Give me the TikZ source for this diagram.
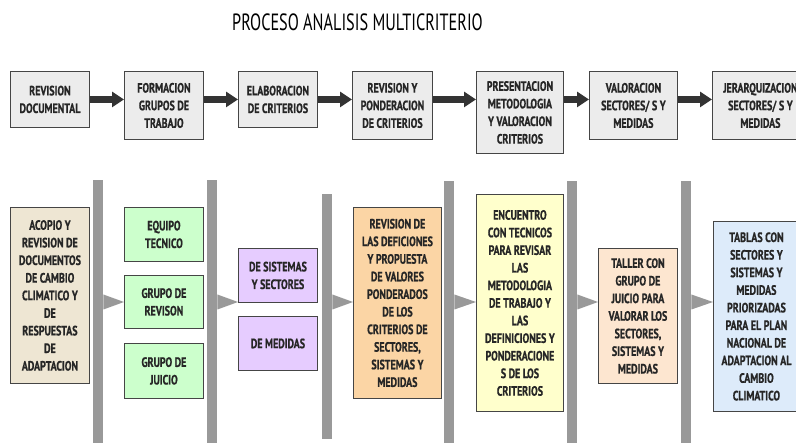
\documentclass[tikz,border=0pt]{standalone}
\usepackage{fontspec}
\setmainfont{PT Sans}[FakeStretch=0.69]
\newfontfamily\boxfont{PT Sans Bold}[FakeStretch=0.74, FakeBold=0.8]
\usetikzlibrary{arrows.meta,calc}
\definecolor{topfill}{HTML}{ECECEC}
\definecolor{edge}{HTML}{454545}
\definecolor{txt}{HTML}{262626}
\definecolor{arr}{HTML}{333333}
\definecolor{bargray}{HTML}{999999}
\definecolor{beige}{HTML}{EEE6D3}
\definecolor{green}{HTML}{CCFFCC}
\definecolor{purple}{HTML}{E6CCFF}
\definecolor{orange}{HTML}{FBD5A5}
\definecolor{yellow}{HTML}{FFFFCC}
\definecolor{peach}{HTML}{FDE6D0}
\definecolor{lblue}{HTML}{DDEBFA}
\tikzset{
  box/.style={draw=edge, line width=0.9pt, anchor=north west, align=center,
    inner sep=0pt, text=txt, font=\boxfont\fontsize{13.5}{17.6}\selectfont},
  topbox/.style={box, fill=topfill},
  bar/.style={fill=bargray, inner sep=0pt, anchor=north west, minimum width=10pt},
  flow/.style={draw=arr, line width=7pt, -{Triangle[length=12pt,width=15pt]}},
  tri/.style={fill=bargray},
}
\begin{document}
\begin{tikzpicture}[x=1pt,y=-1pt]
\useasboundingbox (0,0) rectangle (796,443);
\node[font=\fontsize{23.5}{25}\selectfont, text=black] (title) at (357.5,22) {PROCESO ANALISIS MULTICRITERIO};
% top row
\node[topbox, minimum width=79, minimum height=56] (t1) at (10,71) {REVISION\\DOCUMENTAL};
\node[topbox, minimum width=79, minimum height=68] (t2) at (124,71) {FORMACION\\GRUPOS DE\\TRABAJO};
\node[topbox, minimum width=79, minimum height=56] (t3) at (238,71) {ELABORACION\\DE CRITERIOS};
\node[topbox, minimum width=80, minimum height=68] (t4) at (352,71) {REVISION Y\\PONDERACION\\DE CRITERIOS};
\node[topbox, minimum width=87, minimum height=82] (t5) at (476,71) {PRESENTACION\\METODOLOGIA\\Y VALORACION\\CRITERIOS};
\node[topbox, minimum width=88, minimum height=68] (t6) at (589,71) {VALORACION\\SECTORES/ S Y\\MEDIDAS};
\node[topbox, minimum width=96, minimum height=68] (t7) at (712,71) {JERARQUIZACION\\SECTORES/ S Y\\MEDIDAS};
\foreach \a/\b in {t1/t2,t2/t3,t3/t4,t4/t5,t5/t6,t6/t7}
  \draw[flow] (\a.east |- t1.east) -- (\b.west |- t1.east);
% bars
\node[bar, minimum height=263] (bar1) at (93,180) {};
\node[bar, minimum height=263] (bar2) at (207,180) {};
\node[bar, minimum height=245] (bar3) at (322,194) {};
\node[bar, minimum height=262] (bar4) at (444,181) {};
\node[bar, minimum height=262] (bar5) at (567,181) {};
\node[bar, minimum height=262] (bar6) at (681,181) {};
% bottom boxes
\node[box, fill=beige, minimum width=79, minimum height=176] (a) at (10,207)
  {ACOPIO Y\\REVISION DE\\DOCUMENTOS\\DE CAMBIO\\CLIMATICO Y\\DE\\RESPUESTAS\\DE\\ADAPTACION};
\node[box, fill=green, minimum width=79, minimum height=54] (g1) at (124,207) {EQUIPO\\TECNICO};
\node[box, fill=green, minimum width=79, minimum height=53] (g2) at (124,275) {GRUPO DE\\REVISON};
\node[box, fill=green, minimum width=79, minimum height=55] (g3) at (124,343) {GRUPO DE\\JUICIO};
\node[box, fill=purple, minimum width=79, minimum height=54] (p1) at (238,248) {DE SISTEMAS\\Y SECTORES};
\node[box, fill=purple, minimum width=79, minimum height=54] (p2) at (238,316) {DE MEDIDAS};
\node[box, fill=orange, minimum width=88, minimum height=191] (o) at (353,207)
  {REVISION DE\\LAS DEFICIONES\\Y PROPUESTA\\DE VALORES\\PONDERADOS\\DE LOS\\CRITERIOS DE\\SECTORES,\\SISTEMAS Y\\MEDIDAS};
\node[box, fill=yellow, minimum width=87, minimum height=217] (y) at (476,194)
  {ENCUENTRO\\CON TECNICOS\\PARA REVISAR\\LAS\\METODOLOGIA\\DE TRABAJO Y\\LAS\\DEFINICIONES Y\\PONDERACIONE\\S DE LOS\\CRITERIOS};
\node[box, fill=peach, minimum width=79, minimum height=135] (pe) at (598,248)
  {TALLER CON\\GRUPO DE\\JUICIO PARA\\VALORAR LOS\\SECTORES,\\SISTEMAS Y\\MEDIDAS};
\node[box, fill=lblue, minimum width=86, minimum height=190] (b) at (713,221)
  {TABLAS CON\\SECTORES Y\\SISTEMAS Y\\MEDIDAS\\PRIORIZADAS\\PARA EL PLAN\\NACIONAL DE\\ADAPTACION AL\\CAMBIO\\CLIMATICO};
% triangles
\coordinate (k1) at (g2.west |- 0,302);
\coordinate (k2) at (p1.west |- 0,302);
\coordinate (k3) at (o.west |- 0,302);
\coordinate (k4) at (y.west |- 0,302);
\coordinate (k5) at (pe.west |- 0,302);
\coordinate (k6) at (b.west |- 0,302);
\foreach \i in {1,...,6}
  \fill[tri] ($(bar\i.east |- k\i)+(0,-7.5)$) -- (k\i) -- ($(bar\i.east |- k\i)+(0,7.5)$) -- cycle;
\end{tikzpicture}
\end{document}
